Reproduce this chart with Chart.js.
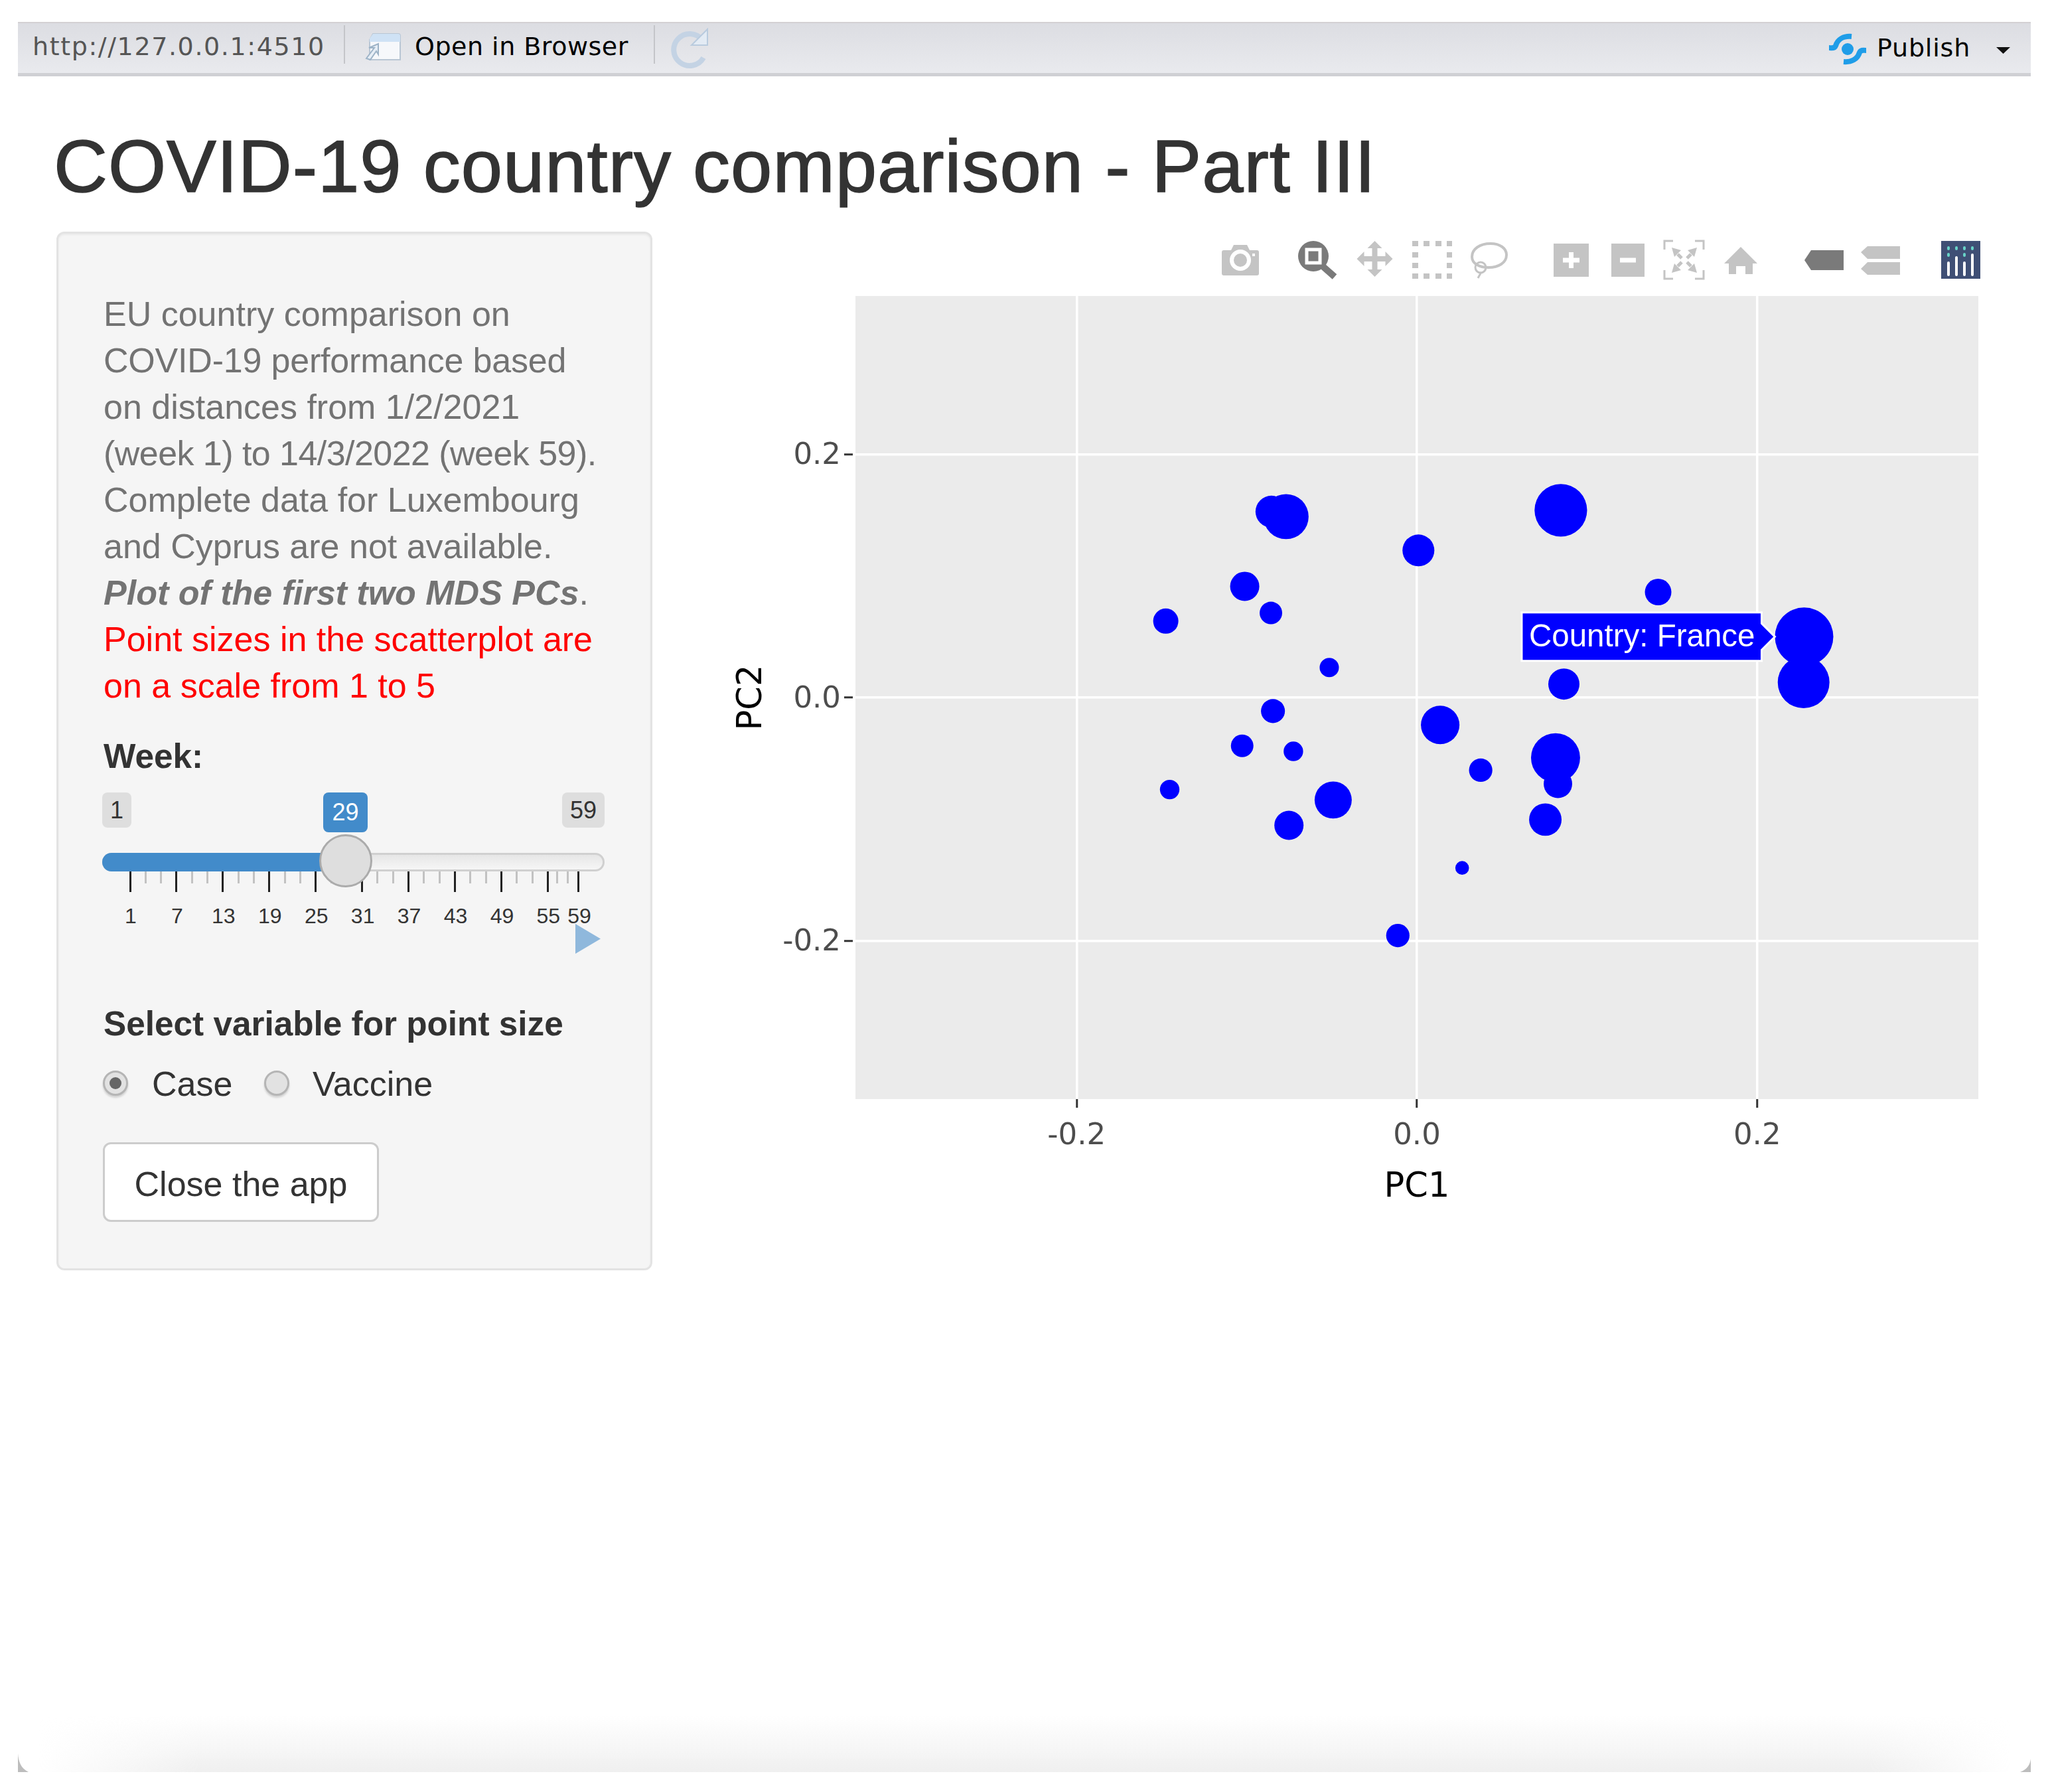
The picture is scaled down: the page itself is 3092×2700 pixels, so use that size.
<!DOCTYPE html>
<html>
<head>
<meta charset="utf-8">
<title>COVID-19 country comparison - Part III</title>
<script src="https://cdn.jsdelivr.net/npm/chart.js@4"></script>
<style>
    html, body { margin: 0; padding: 0; background: #fff; }
    body { width: 3092px; height: 2700px; position: relative; overflow: hidden; font-family: 'Liberation Sans', sans-serif; color: #333; }
    .abs { position: absolute; white-space: nowrap; }
    #topbar { left: 27px; top: 33px; width: 3033px; height: 82px; background: linear-gradient(#dcdde2, #e9eaee); border-top: 2px solid #d3d0d3; border-bottom: 5px solid #cfd0d4; box-sizing: border-box; }
    .bar-text { font-family: 'DejaVu Sans', sans-serif; font-size: 38px; line-height: 44px; color: #000; }
    #title { left: 81px; top: 188px; font-size: 112px; line-height: 126px; color: #333; letter-spacing: 1px; -webkit-text-stroke: 1.6px #333; }
    #panel { left: 85px; top: 349px; width: 898px; height: 1565px; box-sizing: border-box; background: #f5f5f5; border: 3px solid #e3e3e3; border-radius: 12px; box-shadow: inset 0 2px 3px rgba(0,0,0,0.05); }
    #help { left: 156px; top: 438px; font-size: 52px; line-height: 70px; color: #737373; }
    #help .red { color: #ff0000; }
    .label { font-size: 51.3px; line-height: 60px; font-weight: bold; color: #333; }
    .radio-text { font-size: 52px; line-height: 60px; color: #333; }
    .radio { width: 38px; height: 38px; box-sizing: border-box; border-radius: 50%; background: #e2e2e2; border: 3px solid #b5b5b5; box-shadow: 0 3px 3px rgba(0,0,0,0.15); }
    .radio.on::after { content: ''; position: absolute; left: 7px; top: 7px; width: 18px; height: 18px; border-radius: 50%; background: #666; }
    #close { left: 155px; top: 1721px; width: 416px; height: 120px; box-sizing: border-box; background: #fff; border: 3px solid #ccc; border-radius: 12px; font-size: 52px; line-height: 120px; text-align: center; color: #333; }
    .pill { height: 53px; line-height: 53px; font-size: 36px; text-align: center; background: #dedede; border-radius: 8px; color: #333; }
    #track { left: 154px; top: 1285px; width: 757px; height: 28px; box-sizing: border-box; background: linear-gradient(#e6e6e6, #f6f6f6); border: 3px solid #d0d0d0; border-radius: 14px; }
    #fill { left: 154px; top: 1285px; width: 368px; height: 28px; background: #428bca; border-radius: 14px 0 0 14px; }
    #handle { left: 481px; top: 1257px; width: 80px; height: 80px; box-sizing: border-box; border-radius: 50%; background: #dedede; border: 3px solid #ababab; }
    .tick { width: 3px; top: 1313px; }
    .tick-label { top: 1360px; width: 80px; margin-left: -40px; text-align: center; font-size: 32px; line-height: 40px; color: #333; }
    #shade { left: 27px; top: 2585px; width: 3033px; height: 85px; background: linear-gradient(rgba(240,240,240,0), #f0f0f0); -webkit-mask-image: linear-gradient(90deg, transparent 1%, #000 9%, #000 92%, transparent 99%); }
    #chart-wrap { left: 1081px; top: 402px; width: 1950px; height: 1418px; }
    #icons { left: 0; top: 0; }
</style>
</head>
<body>
<div class="abs" id="topbar"></div>
<div class="abs bar-text" style="left:49px;top:48px;color:#555;letter-spacing:1.6px">http://127.0.0.1:4510</div>
<div class="abs bar-text" style="left:625px;top:48px;letter-spacing:.5px">Open in Browser</div>
<div class="abs bar-text" style="left:2828px;top:50px;letter-spacing:.8px">Publish</div>
<div class="abs" id="shade"></div>

<div class="abs" id="title">COVID-19 country comparison - Part III</div>

<div class="abs" id="panel"></div>
<div class="abs" id="help">EU country comparison on<br><span style="letter-spacing:-.2px">COVID-19 performance based</span><br>on distances from 1/2/2021<br><span style="letter-spacing:-.55px">(week 1) to 14/3/2022 (week 59).</span><br>Complete data for Luxembourg<br>and Cyprus are not available.<br><b><i>Plot of the first two MDS PCs</i></b>.<br><span class="red">Point sizes in the scatterplot are</span><br><span class="red">on a scale from 1 to 5</span></div>

<div class="abs label" style="left:156px;top:1110px">Week:</div>
<div class="abs pill" style="left:154px;top:1194px;width:44px">1</div>
<div class="abs pill" style="left:847px;top:1194px;width:64px">59</div>
<div class="abs pill" style="left:487px;top:1194px;width:67px;height:60px;line-height:60px;background:#428bca;color:#fff">29</div>
<div class="abs" id="track"></div>
<div class="abs" id="fill"></div>
<div id="slider-grid"></div>
<div class="abs" id="handle"></div>

<div class="abs label" style="left:156px;top:1513px">Select variable for point size</div>
<div class="abs radio on" style="left:155px;top:1613px"></div>
<div class="abs radio-text" style="left:229px;top:1603px">Case</div>
<div class="abs radio" style="left:398px;top:1613px"></div>
<div class="abs radio-text" style="left:471px;top:1603px">Vaccine</div>
<div class="abs" id="close">Close the app</div>

<div class="abs" id="chart-wrap"><canvas id="chart-mds" width="1950" height="1418" style="width:1950px;height:1418px"></canvas></div>

<svg class="abs" id="icons" width="3092" height="2700" viewBox="0 0 3092 2700" style="pointer-events:none">
    <!-- top bar -->
    <path d="M519 38V96M986 38V96" stroke="#c4c5c9" stroke-width="2"/>
    <path d="M562 51h38a3 3 0 0 1 3 3v36h-46V60z" fill="#f6f8fb" stroke="#b9c6d4" stroke-width="2"/>
    <path d="M562 51h38a3 3 0 0 1 3 3v9h-46V58z" fill="#cfe2f5"/>
    <path d="M552 88l12-16h-8l14-6v16l-3-5-9 13z" fill="#e6eef6" stroke="#9db3c7" stroke-width="2"/>
    <path d="M1058 60a24 24 0 1 0 2 27" fill="none" stroke="#c4d3e4" stroke-width="8"/>
    <path d="M1066 44v24h-24z" fill="#e3ebf4" stroke="#b9cbde" stroke-width="2"/>
    <circle cx="2784" cy="74" r="9" fill="#1f9de8"/>
    <path d="M2756 72c2 0 8 2 10-3 3-10 12-15 24-14M2812 76c-2 0-8-2-10 3-3 10-12 15-24 14" fill="none" stroke="#1f9de8" stroke-width="8"/>
    <path d="M3008 71h21l-10.500 10z" fill="#111"/>
    <!-- modebar -->
    <g fill="#c4c4c4">
        <path d="M1841 380a3 3 0 0 1 3-3h11l4-8h20l4 8h11a3 3 0 0 1 3 3v32a3 3 0 0 1-3 3h-50a3 3 0 0 1-3-3z"/>
        <path d="M2071 363l11 11h-7v12h12v-7l11 11-11 11v-7h-12v12h7l-11 11-11-11h7v-12h-12v7l-11-11 11-11v7h12v-12h-7z" transform="translate(0.500 0)"/>
        <path d="M2128 363h9v8h-9zM2145 363h9v8h-9zM2163 363h9v8h-9zM2180 363h8v8h-8zM2128 380h9v8h-9zM2180 380h8v8h-8zM2128 396h9v8h-9zM2180 396h8v8h-8zM2128 412h9v8h-9zM2145 412h9v8h-9zM2163 412h9v8h-9zM2180 412h8v8h-8z"/>
        <path d="M2341 367h53v50h-53zM2428 367h50v50h-50z" />
        <path d="M2623 372l25 25h-7v16h-11v-12h-14v12h-11v-16h-7z"/>
        <path d="M2804 380l10-9h49v19h-49zM2804 405l10-10h49v19h-49z"/>
    </g>
    <circle cx="1869" cy="392" r="13" fill="#c4c4c4" stroke="#fff" stroke-width="6"/>
    <rect x="1887" y="382" width="4" height="4" fill="#fff"/>
    <path d="M2355 392h25M2367.500 380v24" stroke="#fff" stroke-width="7"/>
    <path d="M2441 392h24" stroke="#fff" stroke-width="7"/>
    <circle cx="1979" cy="386" r="23" fill="#7a7a7a"/>
    <path d="M1994 402l17 15" stroke="#7a7a7a" stroke-width="10"/>
    <rect x="1969" y="376" width="20" height="20" fill="#7a7a7a" stroke="#fff" stroke-width="5"/>
    <path d="M2270 384c0 12-12 19-27 19-14 0-25-6-25-16 0-12 12-20 28-20 14 0 24 7 24 17z" fill="none" stroke="#c4c4c4" stroke-width="4"/>
    <circle cx="2231" cy="403" r="8" fill="none" stroke="#c4c4c4" stroke-width="3"/>
    <path d="M2232 410l-5 9" stroke="#c4c4c4" stroke-width="3"/>
    <path d="M2508 376v-13h13M2554 363h13v13M2567 407v13h-13M2521 420h-13v-13" fill="none" stroke="#c4c4c4" stroke-width="3"/>
    <path d="M2519 373l14 4-10 10zM2557 373l-14 4 10 10zM2519 411l14-4-10-10zM2557 411l-14-4 10-10z" fill="#c4c4c4"/>
    <path d="M2528 383l6 6M2548 383l-6 6M2528 401l6-6M2548 401l-6-6" stroke="#c4c4c4" stroke-width="5"/>
    <path d="M2719 392l10-15h49v30h-49z" fill="#7a7a7a"/>
    <rect x="2925" y="363" width="59" height="57" fill="#3f4f75"/>
    <path d="M2936 373v2M2948 373v2M2960 373v2M2972 373v2M2936 383v2M2960 383v2" stroke="#69d3c8" stroke-width="4" stroke-linecap="round"/>
    <path d="M2936 396v18M2948 388v26M2960 396v18M2972 384v30" stroke="#fff" stroke-width="4" stroke-linecap="round"/>
    <!-- play arrow of the slider -->
    <path d="M867 1392l38 22.500-38 22.500z" fill="#8fb8dc"/>
    <!-- window corners -->
    <path d="M27 2642c1 12 4 22 16 28h-16zM3060 2650c-1 8-4 15-16 20h16z" fill="#bdbdbd"/>
</svg>

<script>
// data
const pc1 = [0.0846, -0.0769, -0.0855, 0.0009, 0.1418, -0.1012, -0.0858, -0.1476, 0.2276, 0.2273, 0.0864, -0.0515, -0.0846, 0.0137, 0.0815, 0.0829, 0.0375, -0.1027, -0.0726, -0.1453, -0.0492, -0.0752, 0.0755, 0.0266, -0.0112]
const pc2 = [0.1539, 0.1487, 0.1528, 0.1209, 0.0867, 0.0914, 0.0695, 0.0628, 0.0500, 0.0125, 0.0111, 0.0247, -0.0111, -0.0225, -0.0495, -0.0709, -0.0597, -0.0397, -0.0442, -0.0756, -0.0842, -0.1050, -0.1003, -0.1400, -0.1956]
const caseSize = [4.5, 3.86, 2.73, 2.73, 2.27, 2.5, 1.93, 2.16, 5, 4.43, 2.67, 1.65, 2.05, 3.3, 4.2, 2.44, 2, 1.93, 1.67, 1.67, 3.18, 2.5, 2.78, 1.17, 2]

const axisTicks = [-0.2, 0, 0.2]
const axisRange = 0.33
const hoveredIndex = 8
const hoveredCountry = 'France'

const sliderWeeks = [1, 7, 13, 19, 25, 31, 37, 43, 49, 55, 59]

// slider grid
function weekToX(week) {
    return 196 + (week - 1) * 11.655
}
function renderSliderGrid() {
    let main = document.getElementById('slider-grid')
    let html = ''
    sliderWeeks.forEach((week, index) => {
        let x = weekToX(week)
        html += `<div class="abs tick" style="left:${x - 1.5}px;height:31px;background:#222"></div>`
        html += `<div class="abs tick-label" style="left:${x + 1}px">${week}</div>`
        let next = sliderWeeks[index + 1]
        if (next) {
            let minors = next - week == 6 ? [2, 4] : [1.2, 2.6]
            minors.forEach(m => {
                html += `<div class="abs tick" style="left:${weekToX(week + m) - 1.5}px;height:18px;background:#c2c2c2"></div>`
            })
        }
    })
    main.innerHTML = html
}
renderSliderGrid()

// tooltip sits on the left edge of the point
Chart.Tooltip.positioners.pointEdge = function (items) {
    if (!items.length) return false
    const el = items[0].element
    return { x: el.x - el.options.radius, y: el.y }
}

const plotBackground = {
    id: 'plotBackground',
    beforeDraw(chart) {
        const { ctx, chartArea } = chart
        ctx.save()
        ctx.fillStyle = '#ebebeb'
        ctx.fillRect(chartArea.left, chartArea.top, chartArea.right - chartArea.left, chartArea.bottom - chartArea.top)
        ctx.restore()
    }
}

function axisOptions(title, isX) {
    return {
        type: 'linear',
        min: -axisRange,
        max: axisRange,
        afterBuildTicks: (scale) => { scale.ticks = axisTicks.map(v => ({ value: v })) },
        afterFit: (scale) => {
            if (isX) scale.height = 164
            else scale.width = 208
            scale.paddingTop = 0
            scale.paddingBottom = 0
            scale.paddingLeft = 0
            scale.paddingRight = 0
        },
        grid: {
            color: '#fff',
            lineWidth: 3.5,
            drawTicks: true,
            tickColor: '#333',
            tickWidth: 3,
            tickLength: 17,
            tickBorderDash: [13, 20]
        },
        border: { display: false },
        ticks: {
            font: { family: 'DejaVu Sans', size: 45 },
            color: '#4d4d4d',
            padding: isX ? 12 : 5,
            labelOffset: isX ? 0 : 3,
            maxRotation: 0,
            callback: (v) => v.toFixed(1)
        },
        title: {
            display: true,
            text: title,
            color: '#000',
            font: { family: 'DejaVu Sans', size: 51 },
            padding: isX ? { top: 16, bottom: 0 } : { top: 22, bottom: 26 }
        }
    }
}

const ctx = document.getElementById('chart-mds').getContext('2d')
const myChart = new Chart(ctx, {
    type: 'bubble',
    plugins: [plotBackground],
    data: {
        datasets: [{
            label: 'Case',
            data: pc1.map((x, i) => ({ x: x, y: pc2[i], r: caseSize[i] * 8.8 })),
            backgroundColor: '#0000ff',
            borderColor: '#0000ff',
            borderWidth: 0,
            hoverRadius: 0,
            hoverBorderWidth: 0
        }]
    },
    options: {
        responsive: false,
        devicePixelRatio: 1,
        animation: false,
        events: [],
        // the largest bubble radius already keeps 44px free above the plot
        layout: { padding: { top: 0, right: 50, left: 0, bottom: 0 } },
        scales: {
            x: axisOptions('PC1', true),
            y: axisOptions('PC2', false)
        },
        plugins: {
            legend: { display: false },
            tooltip: {
                enabled: true,
                animation: false,
                position: 'pointEdge',
                xAlign: 'right',
                yAlign: 'center',
                backgroundColor: '#0000ff',
                borderColor: '#fff',
                borderWidth: 3,
                cornerRadius: 0,
                caretSize: 20,
                caretPadding: 0,
                displayColors: false,
                padding: { left: 11, right: 10, top: 10, bottom: 6 },
                bodyColor: '#fff',
                bodyFont: { family: 'Liberation Sans', size: 47.5 },
                callbacks: {
                    title: () => '',
                    label: () => 'Country: ' + hoveredCountry
                }
            }
        }
    }
})
myChart.tooltip.setActiveElements([{ datasetIndex: 0, index: hoveredIndex }], { x: 0, y: 0 })
myChart.update()
</script>
</body>
</html>
